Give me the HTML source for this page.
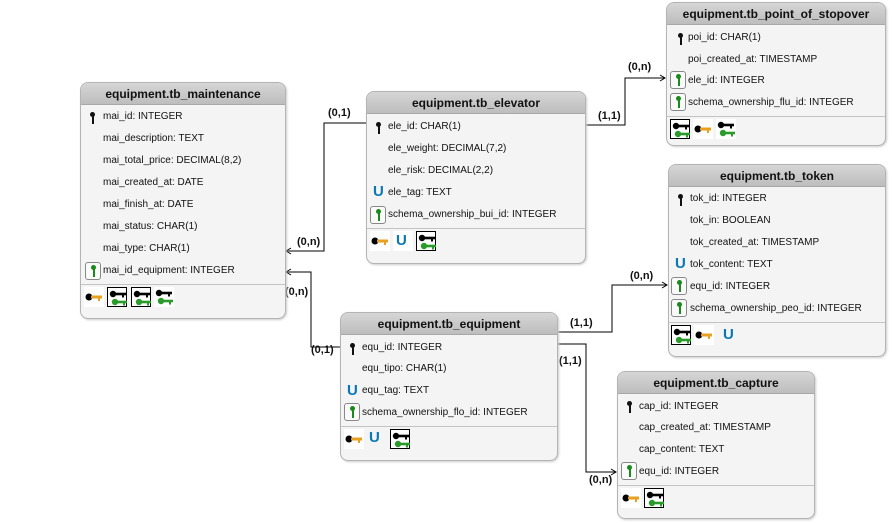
<!DOCTYPE html>
<html><head><meta charset="utf-8"><style>
*{margin:0;padding:0;box-sizing:border-box}
body{width:892px;height:523px;background:#fff;position:relative;overflow:hidden;font-family:"Liberation Sans",sans-serif}
.t{position:absolute;border:1px solid #b4b4b4;border-radius:8px;background:#f4f4f4;overflow:hidden;box-shadow:1px 1px 2px #ccc}
.h{height:22px;background:linear-gradient(#d6d6d6,#bdbdbd);border-bottom:1px solid #a8a8a8;text-align:center;font-weight:bold;font-size:12px;line-height:22px;color:#111}
.r{position:absolute;left:0;font-size:10px;color:#111;white-space:nowrap;height:22px;line-height:22px}
.r span{position:absolute}
.sep{position:absolute;left:0;right:0;border-top:1px solid #c4c4c4}
.ic{position:absolute;width:20px;height:20px;background:#fff}
.ic svg{position:absolute;left:0;top:0}
.pk{position:absolute;width:5px;height:12px}
.pk::before{content:"";position:absolute;left:0;top:0;width:5px;height:5px;border-radius:50%;background:currentColor}
.pk::after{content:"";position:absolute;left:1.5px;top:4px;width:2px;height:8px;background:currentColor}
.fkb{position:absolute;width:16px;height:18px;border:1px solid #888;border-radius:3px;background:#fafafa;color:#1a8a1a}
.u{position:absolute;color:#0a78b4;font-weight:bold;font-size:15px;line-height:16px}
.lbl{position:absolute;font-weight:bold;font-size:11px;color:#111}
</style></head><body>

<svg width="0" height="0" style="position:absolute">
<defs>
<g id="ok"><circle cx="5" cy="10" r="3.5" fill="#000"/><rect x="7" y="8.5" width="11" height="3" fill="#e8a020"/><rect x="14" y="11" width="2" height="3" fill="#e8a020"/></g>
<g id="fk"><circle cx="5" cy="6" r="3.2" fill="#000"/><rect x="7" y="4.7" width="11" height="2.6" fill="#000"/><rect x="14" y="7" width="2" height="2.5" fill="#000"/>
<circle cx="7" cy="14" r="3.2" fill="#2a9a2a"/><rect x="9" y="12.7" width="10" height="2.6" fill="#2a9a2a"/><rect x="15" y="15" width="2" height="2.5" fill="#2a9a2a"/></g>
</defs></svg>

<svg width="892" height="523" style="position:absolute;left:0;top:0" fill="none" stroke="#000" stroke-width="1">
<polyline points="366,123 324,123 324,251 286,251"/><polyline points="291,248 286,251 291,254"/>
<polyline points="340,347 311,347 311,272 286,272"/><polyline points="291,269 286,272 291,275"/>
<polyline points="585,125 625,125 625,78 665,78"/><polyline points="660,75 665,78 660,81"/>
<polyline points="557,332 612,332 612,285 667,285"/><polyline points="662,282 667,285 662,288"/>
<polyline points="557,344 586,344 586,472 616,472"/><polyline points="611,469 616,472 611,475"/>
</svg>
<div class="lbl" style="left:328px;top:107px">(0,1)</div>
<div class="lbl" style="left:297px;top:236px">(0,n)</div>
<div class="lbl" style="left:285px;top:286px">(0,n)</div>
<div class="lbl" style="left:311px;top:344px">(0,1)</div>
<div class="lbl" style="left:598px;top:110px">(1,1)</div>
<div class="lbl" style="left:628px;top:61px">(0,n)</div>
<div class="lbl" style="left:570px;top:317px">(1,1)</div>
<div class="lbl" style="left:630px;top:270px">(0,n)</div>
<div class="lbl" style="left:559px;top:355px">(1,1)</div>
<div class="lbl" style="left:589px;top:474px">(0,n)</div>

<!-- maintenance -->
<div class="t" style="left:80px;top:82px;width:206px;height:237px">
<div class="h">equipment.tb_maintenance</div>
<div class="pk" style="left:9px;top:29px;color:#111"></div>
<div class="r" style="top:23px"><span style="left:22px">mai_id: INTEGER</span></div>
<div class="r" style="top:45px"><span style="left:22px">mai_description: TEXT</span></div>
<div class="r" style="top:67px"><span style="left:22px">mai_total_price: DECIMAL(8,2)</span></div>
<div class="r" style="top:89px"><span style="left:22px">mai_created_at: DATE</span></div>
<div class="r" style="top:111px"><span style="left:22px">mai_finish_at: DATE</span></div>
<div class="r" style="top:133px"><span style="left:22px">mai_status: CHAR(1)</span></div>
<div class="r" style="top:155px"><span style="left:22px">mai_type: CHAR(1)</span></div>
<div class="fkb" style="left:4px;top:179px"><div class="pk" style="left:5px;top:2px"></div></div>
<div class="r" style="top:177px"><span style="left:22px">mai_id_equipment: INTEGER</span></div>
<div class="sep" style="top:201px"></div>
<div class="ic" style="left:3px;top:204px"><svg width="20" height="20"><use href="#ok"/></svg></div>
<div class="ic" style="left:26px;top:204px;border:1px solid #000"><svg width="20" height="20"><use href="#fk"/></svg></div>
<div class="ic" style="left:50px;top:204px;border:1px solid #000"><svg width="20" height="20"><use href="#fk"/></svg></div>
<div class="ic" style="left:73px;top:204px"><svg width="20" height="20"><use href="#fk"/></svg></div>
</div>

<!-- elevator -->
<div class="t" style="left:366px;top:91px;width:220px;height:173px">
<div class="h">equipment.tb_elevator</div>
<div class="pk" style="left:9px;top:30px;color:#111"></div>
<div class="r" style="top:24px"><span style="left:21px">ele_id: CHAR(1)</span></div>
<div class="r" style="top:46px"><span style="left:21px">ele_weight: DECIMAL(7,2)</span></div>
<div class="r" style="top:68px"><span style="left:21px">ele_risk: DECIMAL(2,2)</span></div>
<div class="u" style="left:6px;top:92px">U</div>
<div class="r" style="top:90px"><span style="left:21px">ele_tag: TEXT</span></div>
<div class="fkb" style="left:3px;top:114px"><div class="pk" style="left:5px;top:2px"></div></div>
<div class="r" style="top:112px"><span style="left:21px">schema_ownership_bui_id: INTEGER</span></div>
<div class="sep" style="top:136px"></div>
<div class="ic" style="left:3px;top:139px"><svg width="20" height="20"><use href="#ok"/></svg></div>
<div class="ic" style="left:26px;top:139px"><div class="u" style="left:3px;top:2px">U</div></div>
<div class="ic" style="left:49px;top:139px;border:1px solid #000"><svg width="20" height="20"><use href="#fk"/></svg></div>
</div>

<!-- point_of_stopover -->
<div class="t" style="left:666px;top:2px;width:220px;height:144px">
<div class="h">equipment.tb_point_of_stopover</div>
<div class="pk" style="left:11px;top:30px;color:#111"></div>
<div class="r" style="top:24px"><span style="left:21px">poi_id: CHAR(1)</span></div>
<div class="r" style="top:46px"><span style="left:21px">poi_created_at: TIMESTAMP</span></div>
<div class="fkb" style="left:3px;top:68px"><div class="pk" style="left:5px;top:2px"></div></div>
<div class="r" style="top:67px"><span style="left:21px">ele_id: INTEGER</span></div>
<div class="fkb" style="left:3px;top:90px"><div class="pk" style="left:5px;top:2px"></div></div>
<div class="r" style="top:89px"><span style="left:21px">schema_ownership_flu_id: INTEGER</span></div>
<div class="sep" style="top:113px"></div>
<div class="ic" style="left:3px;top:116px;border:1px solid #000"><svg width="20" height="20"><use href="#fk"/></svg></div>
<div class="ic" style="left:26px;top:116px"><svg width="20" height="20"><use href="#ok"/></svg></div>
<div class="ic" style="left:49px;top:116px"><svg width="20" height="20"><use href="#fk"/></svg></div>
</div>

<!-- token -->
<div class="t" style="left:668px;top:164px;width:218px;height:193px">
<div class="h">equipment.tb_token</div>
<div class="pk" style="left:9px;top:29px;color:#111"></div>
<div class="r" style="top:23px"><span style="left:21px">tok_id: INTEGER</span></div>
<div class="r" style="top:45px"><span style="left:21px">tok_in: BOOLEAN</span></div>
<div class="r" style="top:67px"><span style="left:21px">tok_created_at: TIMESTAMP</span></div>
<div class="u" style="left:6px;top:91px">U</div>
<div class="r" style="top:89px"><span style="left:21px">tok_content: TEXT</span></div>
<div class="fkb" style="left:2px;top:112px"><div class="pk" style="left:5px;top:2px"></div></div>
<div class="r" style="top:111px"><span style="left:21px">equ_id: INTEGER</span></div>
<div class="fkb" style="left:2px;top:134px"><div class="pk" style="left:5px;top:2px"></div></div>
<div class="r" style="top:133px"><span style="left:21px">schema_ownership_peo_id: INTEGER</span></div>
<div class="sep" style="top:157px"></div>
<div class="ic" style="left:2px;top:160px;border:1px solid #000"><svg width="20" height="20"><use href="#fk"/></svg></div>
<div class="ic" style="left:25px;top:160px"><svg width="20" height="20"><use href="#ok"/></svg></div>
<div class="u" style="left:54px;top:162px">U</div>
</div>

<!-- equipment -->
<div class="t" style="left:340px;top:312px;width:218px;height:149px">
<div class="h">equipment.tb_equipment</div>
<div class="pk" style="left:9px;top:30px;color:#111"></div>
<div class="r" style="top:24px"><span style="left:21px">equ_id: INTEGER</span></div>
<div class="r" style="top:45px"><span style="left:21px">equ_tipo: CHAR(1)</span></div>
<div class="u" style="left:6px;top:70px">U</div>
<div class="r" style="top:67px"><span style="left:21px">equ_tag: TEXT</span></div>
<div class="fkb" style="left:3px;top:90px"><div class="pk" style="left:5px;top:2px"></div></div>
<div class="r" style="top:89px"><span style="left:21px">schema_ownership_flo_id: INTEGER</span></div>
<div class="sep" style="top:113px"></div>
<div class="ic" style="left:3px;top:116px"><svg width="20" height="20"><use href="#ok"/></svg></div>
<div class="u" style="left:28px;top:117px">U</div>
<div class="ic" style="left:49px;top:116px;border:1px solid #000"><svg width="20" height="20"><use href="#fk"/></svg></div>
</div>

<!-- capture -->
<div class="t" style="left:617px;top:371px;width:198px;height:148px">
<div class="h">equipment.tb_capture</div>
<div class="pk" style="left:9px;top:29px;color:#111"></div>
<div class="r" style="top:24px"><span style="left:21px">cap_id: INTEGER</span></div>
<div class="r" style="top:45px"><span style="left:21px">cap_created_at: TIMESTAMP</span></div>
<div class="r" style="top:67px"><span style="left:21px">cap_content: TEXT</span></div>
<div class="fkb" style="left:3px;top:90px"><div class="pk" style="left:5px;top:2px"></div></div>
<div class="r" style="top:89px"><span style="left:21px">equ_id: INTEGER</span></div>
<div class="sep" style="top:113px"></div>
<div class="ic" style="left:3px;top:116px"><svg width="20" height="20"><use href="#ok"/></svg></div>
<div class="ic" style="left:26px;top:116px;border:1px solid #000"><svg width="20" height="20"><use href="#fk"/></svg></div>
</div>
</body></html>
